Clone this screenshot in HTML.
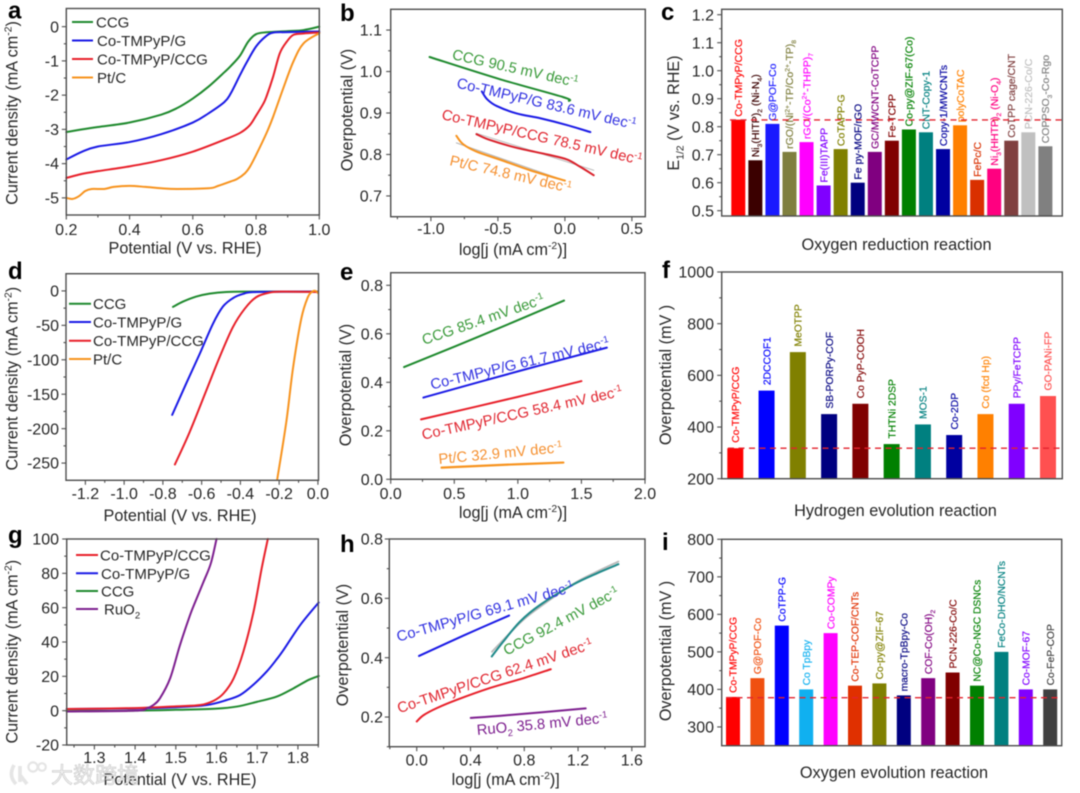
<!DOCTYPE html>
<html lang="en">
<head>
<meta charset="utf-8">
<title>Electrocatalysis performance panels</title>
<style>
html,body{margin:0;padding:0;background:#fff;}
#figure{display:block;width:1080px;height:793px;filter:blur(0.5px);font-family:"Liberation Sans",Arial,sans-serif;}
</style>
</head>
<body>
<svg id="figure" xmlns="http://www.w3.org/2000/svg" width="1080" height="793" viewBox="0 0 1080 793"></svg>
<script>
/* ---------- panel a data ---------- */
const aXTicks=[0.2,0.4,0.6,0.8,1.0];
const aXLabels=['0.2','0.4','0.6','0.8','1.0'];
const aXMinor=[0.3,0.5,0.7,0.9];
const aYTicks=[0,-1,-2,-3,-4,-5];
const aYLabels=['0','-1','-2','-3','-4','-5'];
const aYMinor=[-0.5,-1.5,-2.5,-3.5,-4.5];
const aCcgX=[0.2,0.25,0.3,0.4,0.5,0.55,0.6,0.65,0.7,0.72,0.749,0.775,0.8,0.833,0.9,0.95,1.0];
const aCcgY=[-3.08,-3.0,-2.93,-2.8,-2.57,-2.38,-2.1,-1.75,-1.33,-1.15,-0.85,-0.44,-0.22,-0.165,-0.13,-0.1,0];
const aGX=[0.2,0.25,0.3,0.4,0.5,0.6,0.65,0.7,0.72,0.75,0.77,0.8,0.83,0.854,0.9,1.0];
const aGY=[-3.88,-3.65,-3.5,-3.37,-3.14,-2.8,-2.53,-2.2,-1.95,-1.4,-1.05,-0.58,-0.29,-0.175,-0.16,-0.14];
const aCcgCoX=[0.2,0.25,0.3,0.4,0.5,0.6,0.7,0.75,0.78,0.8,0.823,0.833,0.854,0.875,0.897,0.918,0.95,1.0];
const aCcgCoY=[-4.42,-4.3,-4.22,-4.08,-3.9,-3.65,-3.3,-3.1,-2.88,-2.6,-2.25,-2.04,-1.46,-0.78,-0.44,-0.24,-0.2,-0.17];
const aPtX=[0.2,0.22,0.24,0.26,0.28,0.32,0.35,0.4,0.45,0.5,0.55,0.65,0.68,0.72,0.74,0.765,0.78,0.8,0.833,0.854,0.886,0.918,0.95,1.0];
const aPtY=[-5.0,-5.03,-4.95,-4.8,-4.74,-4.74,-4.68,-4.65,-4.68,-4.72,-4.74,-4.72,-4.65,-4.52,-4.45,-4.28,-4.1,-3.75,-3.11,-2.63,-1.8,-1.02,-0.49,-0.19];

/* ---------- panel b data ---------- */
const bXTicks=[-1,-0.5,0,0.5];
const bXLabels=['-1.0','-0.5','0.0','0.5'];
const bXMinor=[-1.25,-0.75,-0.25,0.25];
const bYTicks=[0.7,0.8,0.9,1.0,1.1];
const bYLabels=['0.7','0.8','0.9','1.0','1.1'];
const bYMinor=[0.75,0.85,0.95,1.05];
const bCcgX=[-1.01,-0.48,-0.01,0.03];
const bCcgY=[1.035,0.981,0.938,0.929];
const bGX=[-0.62,-0.58,-0.51,-0.36,-0.18,0.015,0.19];
const bGY=[0.952,0.933,0.917,0.899,0.887,0.871,0.854];
const bCcgCoX=[-0.66,-0.56,-0.36,-0.13,0.015,0.115,0.215];
const bCcgCoY=[0.849,0.835,0.816,0.8,0.788,0.77,0.75];
const bPtX=[-0.81,-0.76,-0.66,-0.48,-0.26,0];
const bPtY=[0.845,0.825,0.807,0.787,0.762,0.737];
const bFitRedX=[-0.66,0.215];
const bFitRedY=[0.851,0.762];
const bFitPtX=[-0.81,-0.01];
const bFitPtY=[0.828,0.738];

/* ---------- panel c data ---------- */
const cYTicks=[0.5,0.6,0.7,0.8,0.9,1.0,1.1,1.2];
const cYLabels=['0.5','0.6','0.7','0.8','0.9','1.0','1.1','1.2'];
const cYMinor=[0.55,0.65,0.75,0.85,0.95,1.05,1.15];
const cNames=['Co-TMPyP/CCG','Ni_{3}(HITP)_{2} (Ni-N_{4})','G@POF-Co','rGO/(Ni^{2+}-TP/Co^{2+}-TP)_{8}','rGO/(Co^{2+}-THPP)_{7}','Fe(III)TAPP','CoTAPP-G','Fe py-MOF/rGO','GC/MWCNT-CoTCPP','Fe-TCPP','Co-py@ZIF-67(Co)','CNT-Copy-1','Copy-1/MWCNTs','polyCoTAC','FePc/C','Ni_{3}(HHTP)_{2} (Ni-O_{4})','CoTPP cage/CNT','PCN-226-Co/C','COPPSO_{3}-Co-Rgo'];
const cValues=[0.825,0.68,0.81,0.71,0.745,0.59,0.72,0.60,0.71,0.75,0.79,0.78,0.72,0.805,0.61,0.65,0.75,0.78,0.73];
const cColors=['#ff0000','#3b0000','#1a1aff','#7f7f3f','#ff00ff','#8000ff','#808000','#000080','#800080','#800000','#008000','#008080','#0000a0','#ff8000','#d93000','#ff0080','#804040','#c0c0c0','#808080'];
const cReference=[0.824];

/* ---------- panel d data ---------- */
const dXTicks=[-1.2,-1.0,-0.8,-0.6,-0.4,-0.2,0];
const dXLabels=['-1.2','-1.0','-0.8','-0.6','-0.4','-0.2','0.0'];
const dXMinor=[-1.1,-0.9,-0.7,-0.5,-0.3,-0.1];
const dYTicks=[0,-50,-100,-150,-200,-250];
const dYLabels=['0','-50','-100','-150','-200','-250'];
const dYMinor=[-25,-75,-125,-175,-225];
const dCcgX=[-0.748,-0.696,-0.628,-0.559,-0.473,-0.353,0];
const dCcgY=[-23.2,-15.5,-8.2,-3.9,-1.5,-1,-1];
const dGX=[-0.752,-0.679,-0.61,-0.542,-0.49,-0.439,-0.387,-0.318,0];
const dGY=[-180,-134,-91.4,-47.9,-22.7,-10.6,-4.4,-1.5,-1];
const dCcgCoX=[-0.738,-0.662,-0.576,-0.507,-0.439,-0.378,-0.318,-0.249,-0.18,0];
const dCcgCoY=[-252,-205,-144.6,-96,-52.7,-26,-9,-2.4,-1,-1.5];
const dPtX=[-0.21,-0.163,-0.129,-0.086,-0.052,-0.029,-0.012,0];
const dPtY=[-273.7,-190,-113,-40.6,-9.2,-1,0,-3];

/* ---------- panel e data ---------- */
const eXTicks=[0,0.5,1.0,1.5,2.0];
const eXLabels=['0.0','0.5','1.0','1.5','2.0'];
const eXMinor=[0.25,0.75,1.25,1.75];
const eYTicks=[0,0.2,0.4,0.6,0.8];
const eYLabels=['0.0','0.2','0.4','0.6','0.8'];
const eYMinor=[0.1,0.3,0.5,0.7];
const eCcgX=[0.105,0.7,1.363];
const eCcgY=[0.463,0.59,0.737];
const eGX=[0.257,1.0,1.7];
const eGY=[0.337,0.445,0.543];
const eCcgCoX=[0.239,1.0,1.5];
const eCcgCoY=[0.247,0.34,0.405];
const ePtX=[0.4,0.9,1.358];
const ePtY=[0.048,0.06,0.069];

/* ---------- panel f data ---------- */
const fYTicks=[200,400,600,800,1000];
const fYLabels=['200','400','600','800','1000'];
const fYMinor=[300,500,700,900];
const fNames=['Co-TMPyP/CCG','2DCCOF1','MeOTPP','SB-PORPy-COF','Co PyP-COOH','THTNi 2DSP','MOS-1','Co-2DP','Co (fcd Hp)','PPy/FeTCPP','GO-PANi-FP'];
const fValues=[318,541,690,450,490,334,410,369,450,490,520];
const fColors=['#ff0000','#0000ff','#808000','#000080','#800000','#008000','#008080','#0000a0','#ff8000','#8000ff','#ff5050'];
const fReference=[318];

/* ---------- panel g data ---------- */
const gXTicks=[1.3,1.4,1.5,1.6,1.7,1.8];
const gXLabels=['1.3','1.4','1.5','1.6','1.7','1.8'];
const gXMinor=[1.25,1.35,1.45,1.55,1.65,1.75,1.85];
const gYTicks=[-20,0,20,40,60,80,100];
const gYLabels=['-20','0','20','40','60','80','100'];
const gYMinor=[-10,10,30,50,70,90];
const gCcgX=[1.232,1.4,1.5,1.6,1.65,1.7,1.748,1.789,1.826,1.851];
const gCcgY=[-0.3,0,0.5,1.2,2.4,5.2,8.2,13,17.9,20.2];
const gGX=[1.232,1.4,1.5,1.576,1.625,1.658,1.69,1.724,1.748,1.765,1.806,1.851];
const gGY=[1,1.3,2,3.3,6.2,9.1,15,23,30,35.5,50,63];
const gCcgCoX=[1.232,1.4,1.5,1.56,1.593,1.617,1.642,1.666,1.691,1.711,1.726];
const gCcgCoY=[1,1.5,2.5,3.3,5.8,10,18.8,34.4,57.7,83,100];
const gRuX=[1.232,1.4,1.429,1.445,1.461,1.486,1.51,1.535,1.548,1.568,1.586,1.6];
const gRuY=[-0.5,0,1.4,3.3,7.2,18.8,38,55.7,63.5,75,85.8,100];

/* ---------- panel h data ---------- */
const hXTicks=[0,0.4,0.8,1.2,1.6];
const hXLabels=['0.0','0.4','0.8','1.2','1.6'];
const hXMinor=[-0.2,0.2,0.6,1.0,1.4];
const hYTicks=[0.2,0.4,0.6,0.8];
const hYLabels=['0.2','0.4','0.6','0.8'];
const hYMinor=[0.1,0.3,0.5,0.7];
const hGX=[0.017,0.35,0.687];
const hGY=[0.406,0.475,0.542];
const hCcgX=[0.558,0.645,0.769,0.918,1.166,1.339,1.5];
const hCcgY=[0.404,0.455,0.522,0.578,0.647,0.684,0.715];
const hCcgCoX=[0,0.05,0.149,0.298,0.546,0.794,0.997];
const hCcgCoY=[0.185,0.206,0.23,0.258,0.298,0.331,0.361];
const hRuX=[0.402,0.67,1.257];
const hRuY=[0.197,0.206,0.229];
const hFitX=[0.56,0.77,0.92,1.17,1.34,1.5];
const hFitY=[0.42,0.518,0.572,0.65,0.69,0.724];

/* ---------- panel i data ---------- */
const iYTicks=[300,400,500,600,700,800];
const iYLabels=['300','400','500','600','700','800'];
const iYMinor=[350,450,550,650,750];
const iNames=['Co-TMPyP/CCG','G@POF-Co','CoTPP-G','Co TpBpy','Co-COMPy','Co-TEP-COF/CNTs','Co-py@ZIF-67','macro-TpBpy-Co','COF-Co(OH)_{2}','PCN-226-Co/C','NC@Co-NGC DSNCs','FeCo-DHO/NCNTs','Co-MOF-67','Co-FeP-COP'];
const iValues=[380,430,570,400,550,410,416,384,430,445,410,500,400,400];
const iColors=['#ff0000','#f05010','#0000ff','#10b0f0','#ff00ff','#e03000','#808000','#000080','#800080','#800000','#008000','#008080','#8000ff','#404040'];
const iReference=[378];

/* ---------- drawing helpers ---------- */
const NS='http://www.w3.org/2000/svg';
const root=document.getElementById('figure');
const GREEN='#1f8a2e',BLUE='#1a1ae6',RED='#e8202a',ORANGE='#f7931e',PURPLE='#7d1f8f',TEAL='#1f8a8a',AXIS='#4d4d4d',INK='#262626';

function mk(tag,attrs,parent){
  const el=document.createElementNS(NS,tag);
  for(const k in attrs){el.setAttribute(k,attrs[k]);}
  parent.appendChild(el);
  return el;
}
function rich(textEl,str){
  const parts=str.split(/(_\{[^}]*\}|\^\{[^}]*\})/).filter(function(s){return s!=='';});
  let shift=0;
  parts.forEach(function(p){
    const sub=p.startsWith('_{'),sup=p.startsWith('^{');
    const t=document.createElementNS(NS,'tspan');
    const fs=parseFloat(textEl.getAttribute('font-size'));
    let target=0;
    if(sub){target=fs*0.28;t.setAttribute('font-size',(fs*0.64).toFixed(2));t.textContent=p.slice(2,-1);}
    else if(sup){target=-fs*0.36;t.setAttribute('font-size',(fs*0.64).toFixed(2));t.textContent=p.slice(2,-1);}
    else{t.textContent=p;}
    t.setAttribute('dy',(target-shift).toFixed(2));
    shift=target;
    textEl.appendChild(t);
  });
}
function label(parent,name,str,x,y,size,fill,anchor,rotate,weight){
  const t=mk('text',{x:x,y:y,'font-size':size,fill:fill,'text-anchor':anchor||'start'},parent);
  if(rotate){t.setAttribute('transform','rotate('+rotate+' '+x+' '+y+')');}
  if(weight){t.setAttribute('font-weight',weight);}
  
  
  rich(t,str);
  return t;
}
function axes(c){
  const g=mk('g',{},root);
  
  
  const sx=function(v){return c.L+(v-c.x0)/(c.x1-c.x0)*(c.R-c.L);};
  const sy=function(v){return c.B-(v-c.y0)/(c.y1-c.y0)*(c.B-c.T);};
  const ticks=mk('g',{stroke:AXIS,'stroke-width':1.1,fill:'none'},g);
  
  
  (c.yTicks||[]).forEach(function(v,i){
    const tick=mk('line',{x1:c.L-4.5,x2:c.L,y1:sy(v),y2:sy(v)},ticks);
    
    
    label(g,c.id+'-y-tick-label',c.yLabels[i],c.yLabelX,sy(v)+5.6,16,INK,'end');
  });
  (c.yMinor||[]).forEach(function(v){
    const tick=mk('line',{x1:c.L-2.5,x2:c.L,y1:sy(v),y2:sy(v)},ticks);
    
    
  });
  (c.xTicks||[]).forEach(function(v,i){
    const tick=mk('line',{y1:c.B,y2:c.B+4.5,x1:sx(v),x2:sx(v)},ticks);
    
    
    label(g,c.id+'-x-tick-label',c.xLabels[i],sx(v),c.xLabelY,16,INK,'middle');
  });
  (c.xMinor||[]).forEach(function(v){
    const tick=mk('line',{y1:c.B,y2:c.B+2.5,x1:sx(v),x2:sx(v)},ticks);
    
    
  });
  c.sx=sx;c.sy=sy;c.g=g;
  c.drawFrame=function(){
    const f=mk('rect',{x:c.L,y:c.T,width:c.R-c.L,height:c.B-c.T,fill:'none',stroke:AXIS,'stroke-width':1.4},g);
    
    
  };
  label(g,c.id+'-y-axis-title',c.yTitle,c.yTitleX,c.yTitleY,16.2,INK,'middle',-90);
  if(c.xTitle){label(g,c.id+'-x-axis-title',c.xTitle,c.xTitleX,c.xTitleY,16.2,INK,'middle');}
  label(g,c.id+'-letter',c.letter,c.letterX,c.letterY,24,'#000','start',0,'bold');
  return c;
}
function smooth(p){
  let d='M'+p[0][0].toFixed(2)+' '+p[0][1].toFixed(2);
  for(let i=0;i<p.length-1;i++){
    const a=p[Math.max(i-1,0)],b=p[i],e=p[i+1],f=p[Math.min(i+2,p.length-1)];
    const k=0.167;
    const c1=[b[0]+(e[0]-a[0])*k,b[1]+(e[1]-a[1])*k];
    const c2=[e[0]-(f[0]-b[0])*k,e[1]-(f[1]-b[1])*k];
    d+='C'+c1[0].toFixed(2)+' '+c1[1].toFixed(2)+' '+c2[0].toFixed(2)+' '+c2[1].toFixed(2)+' '+e[0].toFixed(2)+' '+e[1].toFixed(2);
  }
  return d;
}
function series(c,name,xs,ys,color,width){
  const pts=xs.map(function(x,i){return [c.sx(x),c.sy(ys[i])];});
  const line=mk('path',{d:smooth(pts),fill:'none',stroke:color,'stroke-width':width||2,'stroke-linejoin':'round','stroke-linecap':'round'},c.g);
  
  
}
function legend(c,name,text,x1,x2,y,tx,color){
  const sw=mk('line',{x1:x1,x2:x2,y1:y,y2:y,stroke:color,'stroke-width':2},c.g);
  
  
  label(c.g,name+'-label',text,tx,y+5.5,15,INK);
}
function bars(c,names,values,colors,first,pitch,w,size,gap,ref,dashStart){
  values.forEach(function(v,i){
    const cx=first+i*pitch;
    const top=c.sy(v);
    const bar=mk('rect',{x:cx-w/2,y:top,width:w,height:c.B-top,fill:colors[i]},c.g);
    
    
    const lab=label(c.g,'bar-label-'+c.id+'-'+(i+1),names[i],cx+size*0.36,top-gap,size,colors[i],'start',-90);
    lab.setAttribute('stroke',colors[i]);
    lab.setAttribute('stroke-width','0.18');
  });
  const dash=mk('line',{x1:dashStart,x2:c.R,y1:c.sy(ref[0]),y2:c.sy(ref[0]),stroke:'#e3232e','stroke-width':1.4,'stroke-dasharray':'6 4.5'},c.g);
  
  
}
const YJ='Current density (mA cm^{-2})',XP='Potential (V vs. RHE)',XL='log[j (mA cm^{-2})]',YO='Overpotential (V)',YM='Overpotential (mV )';

/* ---------- panel a ---------- */
const pa=axes({id:'a',letter:'a',letterX:8,letterY:18.5,L:66.3,R:319.3,T:8.5,B:215,x0:0.2,x1:1.0,y0:-5.5,y1:0.53,xTicks:aXTicks,xLabels:aXLabels,xMinor:aXMinor,yTicks:aYTicks,yLabels:aYLabels,yMinor:aYMinor,xLabelY:235,yLabelX:59,xTitle:XP,xTitleX:185,xTitleY:253.5,yTitle:YJ,yTitleX:17.5,yTitleY:113});
series(pa,'ccg-curve',aCcgX,aCcgY,GREEN);
series(pa,'co-tmpyp-g-curve',aGX,aGY,BLUE);
series(pa,'co-tmpyp-ccg-curve',aCcgCoX,aCcgCoY,RED);
series(pa,'pt-c-curve',aPtX,aPtY,ORANGE);
pa.drawFrame();
legend(pa,'legend-ccg','CCG',72,93,22,96,GREEN);
legend(pa,'legend-co-tmpyp-g','Co-TMPyP/G',72,93,40.5,97,BLUE);
legend(pa,'legend-co-tmpyp-ccg','Co-TMPyP/CCG',72,93,59,97,RED);
legend(pa,'legend-pt-c','Pt/C',72,93,77.5,97,ORANGE);

/* ---------- panel b ---------- */
const pb=axes({id:'b',letter:'b',letterX:340,letterY:21,L:390.7,R:645.3,T:9.3,B:216.7,x0:-1.3,x1:0.6,y0:0.65,y1:1.15,xTicks:bXTicks,xLabels:bXLabels,xMinor:bXMinor,yTicks:bYTicks,yLabels:bYLabels,yMinor:bYMinor,xLabelY:234,yLabelX:382,xTitle:XL,xTitleX:513,xTitleY:255,yTitle:YO,yTitleX:352.5,yTitleY:110});
series(pb,'fit-co-tmpyp-ccg',bFitRedX,bFitRedY,'#bdbdbd',1);
series(pb,'fit-pt-c',bFitPtX,bFitPtY,'#b5b5b5',1);
series(pb,'ccg-tafel',bCcgX,bCcgY,GREEN);
series(pb,'co-tmpyp-g-tafel',bGX,bGY,BLUE);
series(pb,'co-tmpyp-ccg-tafel',bCcgCoX,bCcgCoY,'#d9202a');
series(pb,'pt-c-tafel',bPtX,bPtY,ORANGE);
pb.drawFrame();
label(pb.g,'ccg-slope-label','CCG 90.5 mV dec^{-1}',451.5,59,14.8,'#3a9a3a','start',12.7);
label(pb.g,'co-tmpyp-g-slope-label','Co-TMPyP/G 83.6 mV dec^{-1}',456,87.5,14.8,'#3030e0','start',13.2);
label(pb.g,'co-tmpyp-ccg-slope-label','Co-TMPyP/CCG 78.5 mV dec^{-1}',441,119,14.8,'#e0252f','start',12.9);
label(pb.g,'pt-c-slope-label','Pt/C 74.8 mV dec^{-1}',449,165,14.8,'#f59030','start',13);

/* ---------- panel c ---------- */
const pc=axes({id:'c',letter:'c',letterX:661,letterY:20,L:721.7,R:1062.3,T:9.3,B:216,x0:0,x1:1,y0:0.481,y1:1.2193,yTicks:cYTicks,yLabels:cYLabels,yMinor:cYMinor,yLabelX:714,yTitle:'E_{1/2} (V vs. RHE)',yTitleX:679,yTitleY:113});
bars(pc,cNames,cValues,cColors,738.3,17.06,14,10.5,3,cReference,730);
pc.drawFrame();
label(pc.g,'c-caption','Oxygen reduction reaction',896.5,250,16.3,INK,'middle');

/* ---------- panel d ---------- */
const pd=axes({id:'d',letter:'d',letterX:8,letterY:279,L:66,R:318.5,T:273.7,B:480.3,x0:-1.3,x1:0.003,y0:-275,y1:25,xTicks:dXTicks,xLabels:dXLabels,xMinor:dXMinor,yTicks:dYTicks,yLabels:dYLabels,yMinor:dYMinor,xLabelY:499,yLabelX:59,xTitle:XP,xTitleX:180,xTitleY:521,yTitle:YJ,yTitleX:17.5,yTitleY:378.7});
series(pd,'ccg-curve-her',dCcgX,dCcgY,GREEN);
series(pd,'co-tmpyp-g-curve-her',dGX,dGY,BLUE);
series(pd,'co-tmpyp-ccg-curve-her',dCcgCoX,dCcgCoY,RED);
series(pd,'pt-c-curve-her',dPtX,dPtY,ORANGE);
pd.drawFrame();
legend(pd,'legend-ccg-her','CCG',69,91,303.7,93,GREEN);
legend(pd,'legend-co-tmpyp-g-her','Co-TMPyP/G',69,91,322,93,BLUE);
legend(pd,'legend-co-tmpyp-ccg-her','Co-TMPyP/CCG',69,91,340.7,93,RED);
legend(pd,'legend-pt-c-her','Pt/C',69,91,359,93,ORANGE);

/* ---------- panel e ---------- */
const pe=axes({id:'e',letter:'e',letterX:340,letterY:280,L:390.7,R:645,T:272.7,B:479.3,x0:0,x1:2,y0:0,y1:0.852,xTicks:eXTicks,xLabels:eXLabels,xMinor:eXMinor,yTicks:eYTicks,yLabels:eYLabels,yMinor:eYMinor,xLabelY:499,yLabelX:383,xTitle:XL,xTitleX:513,xTitleY:518,yTitle:YO,yTitleX:351,yTitleY:385});
series(pe,'ccg-tafel-her',eCcgX,eCcgY,GREEN);
series(pe,'co-tmpyp-g-tafel-her',eGX,eGY,BLUE);
series(pe,'co-tmpyp-ccg-tafel-her',eCcgCoX,eCcgCoY,RED);
series(pe,'pt-c-tafel-her',ePtX,ePtY,ORANGE,2.2);
pe.drawFrame();
label(pe.g,'ccg-slope-label-her','CCG 85.4 mV dec^{-1}',424,345,14.8,'#3a9a3a','start',-19);
label(pe.g,'co-tmpyp-g-slope-label-her','Co-TMPyP/G 61.7 mV dec^{-1}',431.7,389.5,14.8,'#3030e0','start',-13.4);
label(pe.g,'co-tmpyp-ccg-slope-label-her','Co-TMPyP/CCG 58.4 mV dec^{-1}',423,439.7,14.8,'#e0252f','start',-12.4);
label(pe.g,'pt-c-slope-label-her','Pt/C 32.9 mV dec^{-1}',439,464,14.8,'#f59030','start',-5.5);

/* ---------- panel f ---------- */
const pf=axes({id:'f',letter:'f',letterX:662,letterY:278,L:721.7,R:1062.3,T:272,B:478.7,x0:0,x1:1,y0:200,y1:1000,yTicks:fYTicks,yLabels:fYLabels,yMinor:fYMinor,yLabelX:714,yTitle:YM,yTitleX:671,yTitleY:375});
bars(pf,fNames,fValues,fColors,735.3,31.27,16,10.3,5.5,fReference,728);
pf.drawFrame();
label(pf.g,'f-caption','Hydrogen evolution reaction',895.5,516,16.3,INK,'middle');

/* ---------- panel g ---------- */
const pg=axes({id:'g',letter:'g',letterX:8,letterY:543,L:66.7,R:318.3,T:539,B:745,x0:1.232,x1:1.85,y0:-20,y1:100,xTicks:gXTicks,xLabels:gXLabels,xMinor:gXMinor,yTicks:gYTicks,yLabels:gYLabels,yMinor:gYMinor,xLabelY:763,yLabelX:59,xTitle:XP,xTitleX:180,xTitleY:785,yTitle:YJ,yTitleX:17.5,yTitleY:651.7});
series(pg,'ccg-curve-oer',gCcgX,gCcgY,GREEN);
series(pg,'co-tmpyp-g-curve-oer',gGX,gGY,BLUE);
series(pg,'co-tmpyp-ccg-curve-oer',gCcgCoX,gCcgCoY,RED);
series(pg,'ruo2-curve',gRuX,gRuY,PURPLE);
pg.drawFrame();
legend(pg,'legend-co-tmpyp-ccg-oer','Co-TMPyP/CCG',76,98,555,100,RED);
legend(pg,'legend-co-tmpyp-g-oer','Co-TMPyP/G',76,98,573.3,101,BLUE);
legend(pg,'legend-ccg-oer','CCG',76,98,591,101,GREEN);
legend(pg,'legend-ruo2','RuO_{2}',76,98,609,104,PURPLE);

/* ---------- panel h ---------- */
const ph=axes({id:'h',letter:'h',letterX:340,letterY:552,L:389.3,R:645,T:539,B:746.7,x0:-0.204,x1:1.698,y0:0.1,y1:0.8,xTicks:hXTicks,xLabels:hXLabels,xMinor:hXMinor,yTicks:hYTicks,yLabels:hYLabels,yMinor:hYMinor,xLabelY:765.5,yLabelX:383,xTitle:XL,xTitleX:505.7,xTitleY:785,yTitle:YO,yTitleX:348,yTitleY:645});
series(ph,'fit-ccg-oer',hFitX,hFitY,'#b8b8b8',1.8);
series(ph,'co-tmpyp-g-tafel-oer',hGX,hGY,BLUE);
series(ph,'ccg-tafel-oer',hCcgX,hCcgY,TEAL);
series(ph,'co-tmpyp-ccg-tafel-oer',hCcgCoX,hCcgCoY,RED);
series(ph,'ruo2-tafel',hRuX,hRuY,PURPLE);
ph.drawFrame();
label(ph.g,'co-tmpyp-g-slope-label-oer','Co-TMPyP/G 69.1 mV dec^{-1}',398.3,641.7,14.8,'#3030e0','start',-16);
label(ph.g,'ccg-slope-label-oer','CCG 92.4 mV dec^{-1}',506.7,655.7,14.8,'#3a9a3a','start',-28);
label(ph.g,'co-tmpyp-ccg-slope-label-oer','Co-TMPyP/CCG 62.4 mV dec^{-1}',399.3,713.3,14.8,'#e0252f','start',-18.5);
label(ph.g,'ruo2-slope-label','RuO_{2} 35.8 mV dec^{-1}',477.3,735,14.8,PURPLE,'start',-5.4);

/* ---------- panel i ---------- */
const pi=axes({id:'i',letter:'i',letterX:662,letterY:550,L:721.7,R:1061.7,T:539.3,B:745.7,x0:0,x1:1,y0:250,y1:800,yTicks:iYTicks,yLabels:iYLabels,yMinor:iYMinor,yLabelX:714,yTitle:YM,yTitleX:671,yTitleY:651});
bars(pi,iNames,iValues,iColors,733,24.4,14,10.3,4,iReference,726);
pi.drawFrame();
label(pi.g,'i-caption','Oxygen evolution reaction',894,778,16.3,INK,'middle');

/* ---------- watermark ---------- */
const wm=mk('g',{opacity:0.95},root);


const wmLogo=mk('path',{d:'M14 765 Q8 776 16 784 M20 766 L20 782 M20 775 L27 784',fill:'none',stroke:'#e4e4e4','stroke-width':3.6},wm);


const wmRing1=mk('circle',{cx:33,cy:767,r:4.6,fill:'none',stroke:'#e4e4e4','stroke-width':2.2},wm);


const wmRing2=mk('circle',{cx:42,cy:767,r:3.8,fill:'none',stroke:'#e4e4e4','stroke-width':2.2},wm);


const wmText=mk('text',{x:51,y:783,'font-size':22,fill:'#f0f0f0',stroke:'#bdbdbd','stroke-width':0.5,'font-family':'"Liberation Sans","Noto Sans CJK SC",sans-serif'},wm);


wmText.textContent='大数跨境';
</script>
</body>
</html>
